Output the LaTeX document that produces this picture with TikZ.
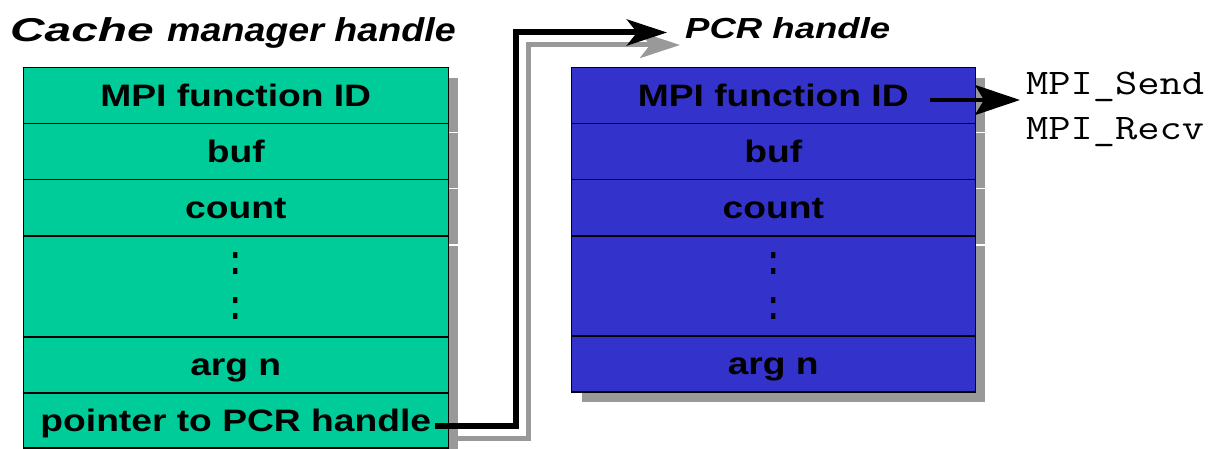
\documentclass[tikz,border=0pt]{standalone}
\usepackage{fontspec}
\newfontfamily\hv{Liberation Sans}
\usetikzlibrary{arrows.meta}
\definecolor{cmgreen}{RGB}{0,204,153}
\definecolor{pcrblue}{RGB}{51,51,204}
\definecolor{shadowgray}{RGB}{153,153,153}
\newcommand{\hx}[1]{\scalebox{1.2}[1]{#1}}
\newcommand{\mx}[1]{\scalebox{1.2}[1]{#1}}
\newcommand{\vcolon}{\scalebox{1}[1.4]{:}}
\tikzset{
  cellbox/.style={draw=black, line width=1.5pt, anchor=north west, inner sep=0pt,
    text height=22pt, text depth=0pt, align=center,
    font=\hv\bfseries\fontsize{31}{36}\selectfont},
  greencell/.style={cellbox, fill=cmgreen, minimum width=425pt},
  bluecell/.style={cellbox, fill=pcrblue, minimum width=404pt},
  dotsnode/.style={inner sep=0pt, font=\hv\bfseries\fontsize{31}{36}\selectfont},
  shadowbox/.style={fill=shadowgray},
  shadowgap/.style={draw=white, line width=1.2pt},
  titletext/.style={anchor=base west, inner sep=0pt,
    font=\hv\bfseries\itshape\fontsize{33}{38}\selectfont},
  monotext/.style={anchor=base west, inner sep=0pt,
    font=\ttfamily\fontsize{36}{42}\selectfont},
  ptrline/.style={line width=6pt, line join=miter,
    -{Stealth[length=40pt,width=26pt,inset=10pt]}},
  ptrshadow/.style={ptrline, draw=shadowgray, line width=5pt,
    -{Stealth[length=40pt,width=26pt,inset=10pt]}},
  fnline/.style={line width=4pt,
    -{Stealth[length=45pt,width=30pt,inset=9pt]}},
}
\begin{document}
\begin{tikzpicture}[x=1pt,y=-1pt]
\useasboundingbox (0,0) rectangle (1217,449);

% titles
\node[titletext] (cachetitle) at (10,41.7) {\scalebox{1.45}[1]{Cache}};
\node[titletext] (mgrtitle) at (167,41.7) {\scalebox{1.14}[1]{manager handle}};
\node[titletext, font=\hv\bfseries\itshape\fontsize{29}{34}\selectfont]
  (pcrtitle) at (685,38.3) {\scalebox{1.26}[1]{PCR handle}};

% shadows
\fill[shadowbox] (33,77.7) rectangle (458,460);
\fill[shadowbox] (581.5,77.7) rectangle (984.5,402);
\foreach \yy in {132.5,188.5,245} {
  \draw[shadowgap] (447.5,\yy) -- (458.5,\yy);
  \draw[shadowgap] (974.5,\yy) -- (985,\yy);
}

% pointer connector shadow
\coordinate (ptrgs) at (447,438);
\coordinate (ptrgturn) at (528,45);
\coordinate (ptrgtip) at (680,45);
\draw[ptrshadow] (ptrgs) -| (ptrgturn) -- (ptrgtip);

% left table
\node[greencell, minimum height=56pt] (l1) at (22.5,67) {\hx{MPI function ID}};
\node[greencell, minimum height=56pt] (l2) at (22.5,123) {\hx{buf}};
\node[greencell, minimum height=56pt] (l3) at (22.5,179) {\hx{count}};
\node[greencell, minimum height=101pt] (l4) at (22.5,235) {};
\node[greencell, minimum height=56pt] (l5) at (22.5,336) {\hx{arg n}};
\node[greencell, minimum height=55pt] (l6) at (22.5,392) {\hx{pointer to PCR handle}};
\node[dotsnode] (ld1) at ([yshift=-22.5pt]l4.center) {\vcolon};
\node[dotsnode] (ld2) at ([yshift=22.5pt]l4.center) {\vcolon};

% right table
\node[bluecell, minimum height=56pt] (r1) at (570.5,67) {\hx{MPI function ID}};
\node[bluecell, minimum height=56pt] (r2) at (570.5,123) {\hx{buf}};
\node[bluecell, minimum height=56pt] (r3) at (570.5,179) {\hx{count}};
\node[bluecell, minimum height=100pt] (r4) at (570.5,235) {};
\node[bluecell, minimum height=56pt] (r5) at (570.5,335) {\hx{arg n}};
\node[dotsnode] (rd1) at ([yshift=-22.5pt]r4.center) {\vcolon};
\node[dotsnode] (rd2) at ([yshift=22.5pt]r4.center) {\vcolon};

% pointer connector
\coordinate (ptrs) at (435,426);
\coordinate (ptrturn) at (515.5,32.5);
\coordinate (ptrtip) at (667,32.5);
\draw[ptrline] (ptrs) -| (ptrturn) -- (ptrtip);

% function ID arrow and names
\node[monotext] (send) at (1026,95) {\mx{MPI\_Send}};
\node[monotext] (recv) at (1026,140) {\mx{MPI\_Recv}};
\coordinate (fns) at (930,100);
\coordinate (fntip) at (1020,100);
\draw[fnline] (fns) -- (fntip);
\end{tikzpicture}
\end{document}
